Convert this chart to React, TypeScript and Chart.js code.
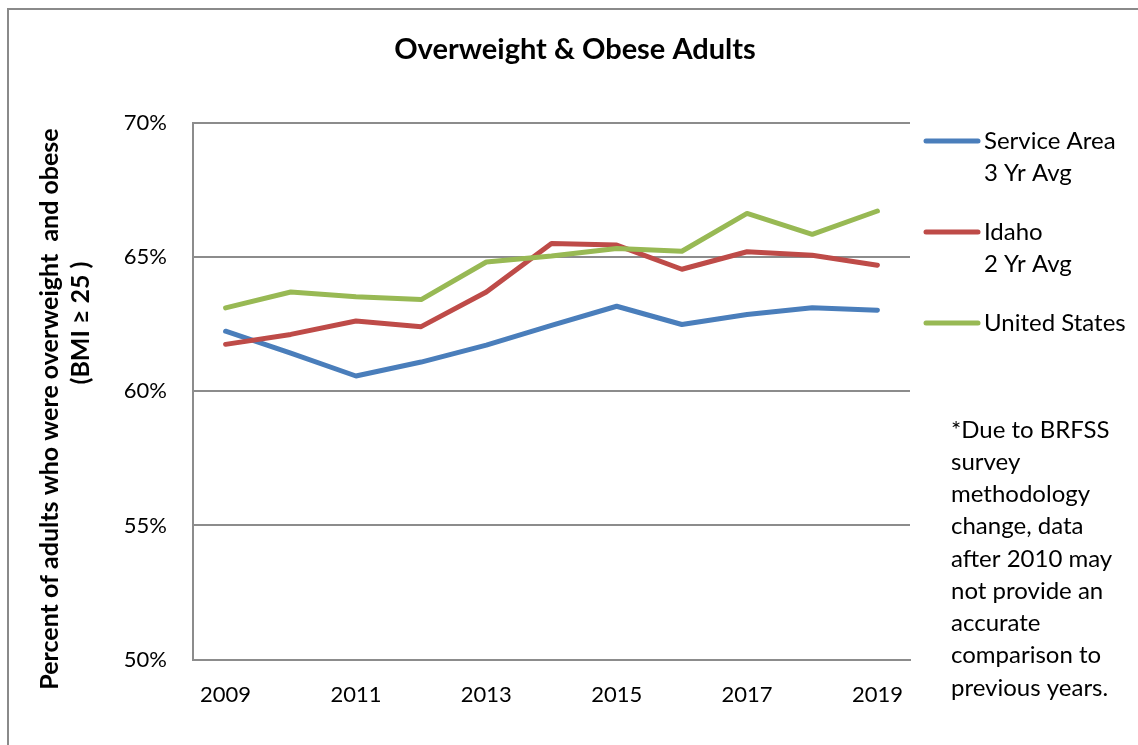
import React, { useEffect, useRef } from "react";
import { Chart, registerables } from "chart.js";

Chart.register(...registerables);

const years = ["2009", "2010", "2011", "2012", "2013", "2014", "2015", "2016", "2017", "2018", "2019"];
const serviceArea = [62.24, 61.42, 60.57, 61.09, 61.72, 62.46, 63.17, 62.49, 62.86, 63.11, 63.02];
const idaho = [61.75, 62.12, 62.62, 62.41, 63.7, 65.51, 65.45, 64.55, 65.2, 65.07, 64.7];
const unitedStates = [63.11, 63.7, 63.52, 63.42, 64.82, 65.04, 65.32, 65.22, 66.63, 65.85, 66.72];

const seriesLabels = [["Service Area", "3 Yr Avg"], ["Idaho", "2 Yr Avg"], ["United States"]];
const seriesColors = ["#4A7EBB", "#BE4B48", "#98B954"];
const chartTitle = "Overweight & Obese Adults";
const yAxisTitle = ["Percent of adults who were overweight  and obese", "(BMI \u2265 25 )"];
const noteLines = [
  "*Due to BRFSS",
  "survey",
  "methodology",
  "change, data",
  "after 2010 may",
  "not provide an",
  "accurate",
  "comparison to",
  "previous years.",
];

const FONT = "Lato, 'Open Sans', sans-serif";

const sideTextPlugin = {
  id: "sideText",
  afterDraw(chart: any) {
    const ctx = chart.ctx;
    ctx.save();
    ctx.fillStyle = "#000";
    ctx.textBaseline = "middle";

    // title
    ctx.font = `bold 29px ${FONT}`;
    ctx.textAlign = "center";
    ctx.fillText(chartTitle, 575, 50);

    // y axis title (rotated)
    ctx.font = `bold 25px ${FONT}`;
    const yTitlePos = [
      { x: 50, y: 409 },
      { x: 81, y: 323 },
    ];
    yAxisTitle.forEach((t, i) => {
      ctx.save();
      ctx.translate(yTitlePos[i].x, yTitlePos[i].y);
      ctx.rotate(-Math.PI / 2);
      ctx.fillText(t, 0, 0);
      ctx.restore();
    });

    // legend
    ctx.font = `24px ${FONT}`;
    ctx.textAlign = "left";
    let y = 141;
    seriesLabels.forEach((lines, i) => {
      ctx.strokeStyle = seriesColors[i];
      ctx.lineWidth = 5;
      ctx.lineCap = "round";
      ctx.beginPath();
      ctx.moveTo(926, y);
      ctx.lineTo(978, y);
      ctx.stroke();
      lines.forEach((t, j) => {
        ctx.fillText(t, 984, y + j * 32);
      });
      y = y + (lines.length - 1) * 32 + 59;
    });
    // note
    noteLines.forEach((t, i) => {
      ctx.fillText(t, 951, 430 + i * 32.25);
    });
    ctx.restore();
  },
};

export default function App() {
  const ref = useRef<HTMLCanvasElement | null>(null);

  useEffect(() => {
    if (!ref.current) return;
    const gridColor = "#8C8C8C";
    const chart = new Chart(ref.current, {
      type: "line",
      data: {
        labels: years,
        datasets: [
          { label: seriesLabels[0].join(" "), data: serviceArea, borderColor: seriesColors[0], order: 2 },
          { label: seriesLabels[1].join(" "), data: idaho, borderColor: seriesColors[1], order: 1 },
          { label: seriesLabels[2].join(" "), data: unitedStates, borderColor: seriesColors[2], order: 0 },
        ].map((d) => ({
          ...d,
          backgroundColor: d.borderColor,
          borderWidth: 5,
          pointRadius: 0,
          pointHoverRadius: 0,
          tension: 0,
          fill: false,
          borderCapStyle: "round" as const,
          borderJoinStyle: "round" as const,
        })),
      },
      options: {
        responsive: false,
        animation: false,
        devicePixelRatio: 1,
        layout: { padding: { left: 0, right: 228, top: 123, bottom: 15 } },
        plugins: {
          legend: { display: false },
          tooltip: { enabled: false },
          title: { display: false },
        },
        scales: {
          x: {
            offset: true,
            grid: { display: false, drawTicks: false },
            border: { display: true, color: gridColor, width: 2 },
            ticks: {
              autoSkip: false,
              maxRotation: 0,
              padding: 22,
              color: "#000",
              font: { family: FONT, size: 22 },
              callback: (_v: any, i: number) => (i % 2 === 0 ? years[i] : ""),
            },
          },
          y: {
            min: 50,
            max: 70,
            afterFit: (scale: any) => {
              scale.width = 193;
            },
            grid: { color: gridColor, lineWidth: 2, drawTicks: false },
            border: { display: true, color: gridColor, width: 2 },
            ticks: {
              stepSize: 5,
              padding: 26,
              color: "#000",
              font: { family: FONT, size: 22 },
              callback: (v: any) => `${v}%`,
            },
            title: { display: false },
          },
        },
      },
      plugins: [sideTextPlugin],
    });
    return () => chart.destroy();
  }, []);

  return (
    <div style={{ position: "absolute", left: 0, top: 0, width: 1138, height: 745, overflow: "hidden", background: "#fff" }}>
      <div
        style={{
          position: "absolute",
          left: 7,
          top: 8,
          width: 1200,
          height: 800,
          border: "2px solid #8A8A8A",
          boxSizing: "border-box",
        }}
      />
      <canvas ref={ref} width={1138} height={745} style={{ position: "absolute", left: 0, top: 0, width: 1138, height: 745 }} />
    </div>
  );
}
